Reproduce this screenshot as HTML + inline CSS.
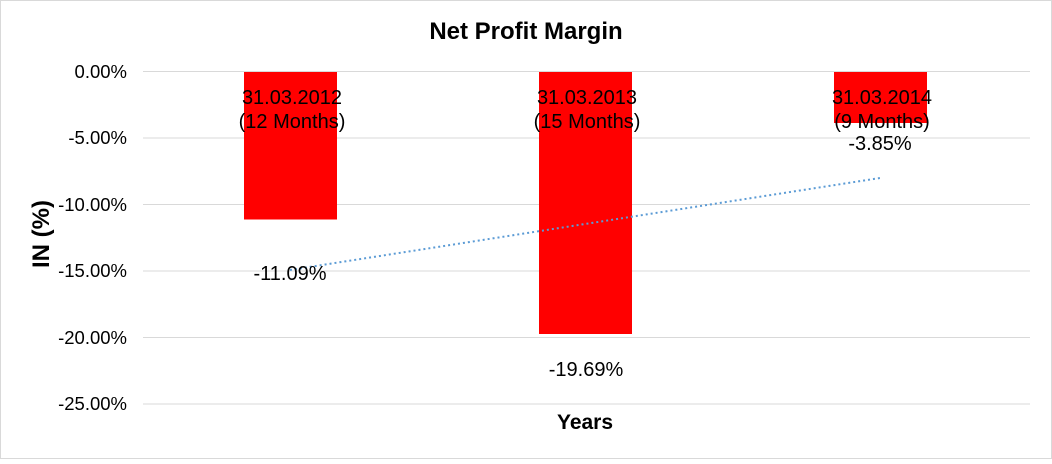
<!DOCTYPE html>
<html><head><style>
body{margin:0;background:#fff}
svg text{font-family:"Liberation Sans",Arial,sans-serif}
</style></head><body>
<svg width="1052" height="459" xmlns="http://www.w3.org/2000/svg">
<rect x="0.5" y="0.5" width="1051" height="458" fill="#fff" stroke="#d9d9d9"/>
<text x="526" y="39" text-anchor="middle" font-size="24" font-weight="bold">Net Profit Margin</text>
<g stroke="#d9d9d9" stroke-width="1">
<line x1="143" x2="1030" y1="71.5" y2="71.5"/>
<line x1="143" x2="1030" y1="138" y2="138"/>
<line x1="143" x2="1030" y1="204.5" y2="204.5"/>
<line x1="143" x2="1030" y1="271" y2="271"/>
<line x1="143" x2="1030" y1="337.5" y2="337.5"/>
<line x1="143" x2="1030" y1="404" y2="404"/>
</g>
<g font-size="18.5" text-anchor="end">
<text x="127" y="78">0.00%</text>
<text x="127" y="144">-5.00%</text>
<text x="127" y="211">-10.00%</text>
<text x="127" y="277">-15.00%</text>
<text x="127" y="344">-20.00%</text>
<text x="127" y="410">-25.00%</text>
</g>
<text transform="translate(49,234) rotate(-90)" text-anchor="middle" font-size="24" font-weight="bold">IN (%)</text>
<text x="585" y="429" text-anchor="middle" font-size="21" font-weight="bold">Years</text>
<rect x="244" y="72" width="93" height="147.5" fill="#ff0000"/>
<rect x="539" y="72" width="93" height="262" fill="#ff0000"/>
<rect x="834" y="72" width="93" height="51" fill="#ff0000"/>
<line x1="290" y1="270" x2="880" y2="178" stroke="#5b9bd5" stroke-width="2" stroke-dasharray="2,3"/>
<g font-size="20" text-anchor="middle">
<text x="292" y="104">31.03.2012</text><text x="292" y="128">(12 Months)</text>
<text x="587" y="104">31.03.2013</text><text x="587" y="128">(15 Months)</text>
<text x="882" y="104">31.03.2014</text><text x="882" y="128">(9 Months)</text>
<text x="290" y="280">-11.09%</text>
<text x="586" y="376">-19.69%</text>
<text x="880" y="150">-3.85%</text>
</g>
</svg>
</body></html>
